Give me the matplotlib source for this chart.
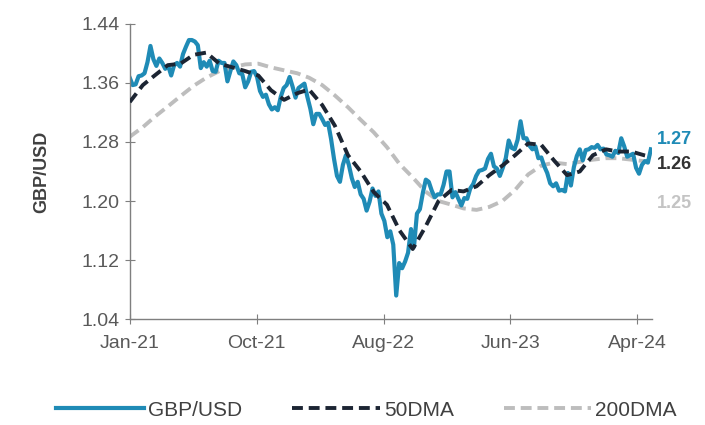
import pandas as pd
import matplotlib
matplotlib.use('Agg')
from matplotlib import pyplot as plt
import matplotlib.dates as mdates

# weekly GBP/USD (Fridays)
gbp_2021 = [1.367, 1.357, 1.358, 1.369, 1.370, 1.373, 1.388, 1.410, 1.392, 1.383,
            1.393, 1.387, 1.379, 1.383, 1.370, 1.384, 1.387, 1.382, 1.399, 1.409,
            1.418, 1.418, 1.416, 1.411, 1.380, 1.388, 1.382, 1.390, 1.376, 1.375,
            1.390, 1.387, 1.387, 1.362, 1.376, 1.389, 1.384, 1.373, 1.372, 1.354,
            1.362, 1.375, 1.376, 1.368, 1.349, 1.341, 1.344, 1.331, 1.324, 1.327,
            1.323, 1.341, 1.353]
gbp_2022 = [1.357, 1.368, 1.355, 1.340, 1.353, 1.356, 1.359, 1.341, 1.325, 1.304,
            1.318, 1.318, 1.311, 1.303, 1.306, 1.284, 1.257, 1.234, 1.226, 1.249,
            1.262, 1.249, 1.231, 1.219, 1.226, 1.209, 1.203, 1.187, 1.199, 1.217,
            1.207, 1.213, 1.183, 1.173, 1.151, 1.159, 1.141, 1.072, 1.116, 1.109,
            1.118, 1.130, 1.162, 1.138, 1.183, 1.189, 1.211, 1.229, 1.226, 1.214,
            1.205, 1.209]
gbp_2023 = [1.209, 1.222, 1.240, 1.240, 1.205, 1.212, 1.203, 1.194, 1.204, 1.203,
            1.217, 1.223, 1.234, 1.241, 1.242, 1.244, 1.257, 1.264, 1.247, 1.244,
            1.234, 1.245, 1.258, 1.282, 1.272, 1.270, 1.283, 1.308, 1.285, 1.285,
            1.275, 1.270, 1.274, 1.258, 1.259, 1.247, 1.238, 1.224, 1.220, 1.224,
            1.214, 1.215, 1.213, 1.238, 1.221, 1.246, 1.261, 1.270, 1.255, 1.269,
            1.270, 1.273]
gbp_2024 = [1.272, 1.276, 1.270, 1.271, 1.263, 1.262, 1.260, 1.268, 1.265, 1.285,
            1.274, 1.260, 1.262, 1.264, 1.245, 1.237, 1.249, 1.254, 1.252, 1.270]

# moving averages, start of each month
ma50 = [1.334, 1.357, 1.370, 1.384, 1.386, 1.398, 1.401, 1.386, 1.381, 1.376, 1.370, 1.350,
        1.337, 1.346, 1.351, 1.330, 1.302, 1.262, 1.240, 1.212, 1.195, 1.160, 1.135, 1.165,
        1.200, 1.215, 1.213, 1.220, 1.235, 1.248, 1.262, 1.278, 1.276, 1.255, 1.235, 1.240,
        1.262, 1.270, 1.267, 1.267, 1.262, 1.260]
ma200 = [1.287, 1.300, 1.314, 1.328, 1.342, 1.356, 1.367, 1.376, 1.381, 1.385, 1.386, 1.381,
         1.377, 1.373, 1.367, 1.357, 1.343, 1.327, 1.310, 1.293, 1.273, 1.250, 1.232, 1.213,
         1.200, 1.195, 1.190, 1.188, 1.192, 1.200, 1.215, 1.236, 1.248, 1.252, 1.250, 1.253,
         1.256, 1.258, 1.258, 1.256, 1.254, 1.253]

tick_dates = ['2021-01-01', '2021-10-28', '2022-08-24', '2023-06-20', '2024-04-15']
yticks = [1.04, 1.12, 1.20, 1.28, 1.36, 1.44]

gbp = gbp_2021 + gbp_2022 + gbp_2023 + gbp_2024
gbp_dates = pd.date_range('2021-01-01', periods=len(gbp), freq='W-FRI')
ma_dates = list(pd.date_range('2021-01-01', '2024-05-01', freq='MS')) + [gbp_dates[-1]]

blue = '#1f8bb6'
dark = '#1c2533'
grey = '#bdbdbd'

plt.rcParams['font.family'] = ['Liberation Sans', 'DejaVu Sans']

fig = plt.figure(figsize=(7.05, 4.25), dpi=100)
ax = fig.add_axes([0.184, 0.249, 0.741, 0.695])

ax.plot(ma_dates, ma200, color=grey, lw=2.8, dashes=(2.8, 1.5), label='200DMA', zorder=1)
ax.plot(gbp_dates, gbp, color=blue, lw=3.0, label='GBP/USD', zorder=2)
ax.plot(ma_dates, ma50, color=dark, lw=2.8, dashes=(2.8, 1.5), label='50DMA', zorder=3)

ax.set_ylim(1.04, 1.44)
ax.set_yticks(yticks)
ax.set_yticklabels(['%.2f' % v for v in yticks])
ax.set_xlim(pd.Timestamp('2021-01-01'), pd.Timestamp('2024-05-20'))
ax.set_xticks(pd.to_datetime(tick_dates))
ax.xaxis.set_major_formatter(mdates.DateFormatter('%b-%y'))

for s in ['top', 'right']:
    ax.spines[s].set_visible(False)
for s in ['left', 'bottom']:
    ax.spines[s].set_color('#7f7f7f')
    ax.spines[s].set_linewidth(1.0)
ax.tick_params(axis='both', direction='inout', length=7, color='#7f7f7f',
               labelcolor='#595959', labelsize=14)
ax.tick_params(axis='x', pad=8)
ax.tick_params(axis='y', pad=4)
ax.set_ylabel('GBP/USD', fontsize=13, fontweight='bold', color='#404040', labelpad=22)

# end-of-series labels
ax.text(1.01, 1.283, '1.27', transform=ax.get_yaxis_transform(), color=blue,
        fontsize=13, fontweight='bold', va='center')
ax.text(1.01, 1.249, '1.26', transform=ax.get_yaxis_transform(), color='#333333',
        fontsize=13, fontweight='bold', va='center')
ax.text(1.01, 1.197, '1.25', transform=ax.get_yaxis_transform(), color='#c4c4c4',
        fontsize=13, fontweight='bold', va='center')

h, l = ax.get_legend_handles_labels()
order = [1, 2, 0]
fig.legend([h[i] for i in order], [l[i] for i in order], loc='center',
           bbox_to_anchor=(0.52, 0.035), ncol=3, frameon=False, fontsize=15,
           handlelength=4.2, handletextpad=0.2, columnspacing=2.4, labelcolor='#404040')

fig.savefig('out.png', dpi=100)
